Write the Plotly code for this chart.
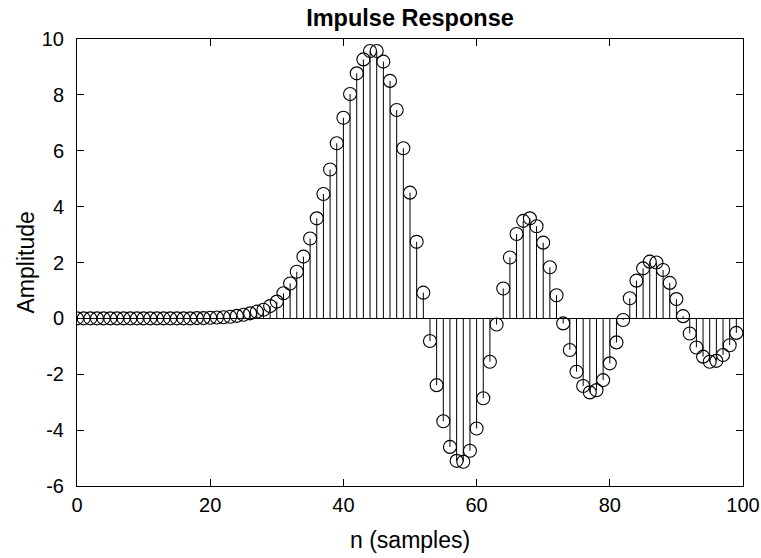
import plotly.graph_objects as go

n = list(range(100))
amplitude = [0.0] * 18 + [
    0.01, 0.01, 0.02, 0.03, 0.04, 0.06, 0.09, 0.13, 0.18, 0.24,   # 18-27
    0.31, 0.44, 0.60, 0.90, 1.25, 1.67, 2.21, 2.86, 3.58, 4.45,   # 28-37
    5.33, 6.27, 7.18, 8.03, 8.77, 9.27, 9.57, 9.57, 9.19, 8.50,   # 38-47
    7.46, 6.09, 4.50, 2.74, 0.92, -0.81, -2.39, -3.68, -4.60, -5.10,  # 48-57
    -5.13, -4.74, -3.94, -2.86, -1.55, -0.22, 1.07, 2.18, 3.02, 3.49,  # 58-67
    3.58, 3.30, 2.71, 1.83, 0.83, -0.18, -1.13, -1.91, -2.42, -2.65,  # 68-77
    -2.57, -2.21, -1.61, -0.86, -0.06, 0.72, 1.35, 1.79, 2.03, 2.00,  # 78-87
    1.73, 1.27, 0.69, 0.08, -0.54, -1.04, -1.37, -1.55, -1.52, -1.31,  # 88-97
    -0.96, -0.52,  # 98-99
]

x_ticks = [0, 20, 40, 60, 80, 100]
y_ticks = [-6, -4, -2, 0, 2, 4, 6, 8, 10]

title_text = "Impulse Response"
x_title = "n (samples)"
y_title = "Amplitude"

# stems built from the data
stem_x, stem_y = [], []
for xi, yi in zip(n, amplitude):
    stem_x += [xi, xi, None]
    stem_y += [0, yi, None]

fig = go.Figure()
fig.add_trace(go.Scatter(x=stem_x, y=stem_y, mode="lines",
                         line=dict(color="black", width=1),
                         hoverinfo="skip", showlegend=False))
fig.add_trace(go.Scatter(x=n, y=amplitude, mode="markers",
                         marker=dict(symbol="circle-open", size=13,
                                     color="black", line=dict(width=1.1)),
                         showlegend=False))

font = "Liberation Sans, Arial, Helvetica, sans-serif"
W, H = 761, 558
ML, MR, MT, MB = 77, 18, 39, 72
PW, PH = W - ML - MR, H - MT - MB

fig.update_layout(
    width=W, height=H,
    margin=dict(l=ML, r=MR, t=MT, b=MB, autoexpand=False),
    paper_bgcolor="white", plot_bgcolor="white",
    font=dict(family=font, size=20, color="black"),
    title=dict(text="<b>" + title_text + "</b>", x=0.5, xref="paper",
               xanchor="center", y=1 - 17.5 / H, yref="container", yanchor="middle",
               font=dict(size=23.5, family=font, color="black")),
    xaxis=dict(range=[0, 100], tickvals=x_ticks, ticktext=[str(v) for v in x_ticks],
               showgrid=False, zeroline=False, showline=True, linecolor="black",
               linewidth=1, mirror="ticks", ticks="inside", ticklen=7,
               tickcolor="black", tickfont=dict(size=20), automargin=False,
               ticklabelstandoff=1),
    yaxis=dict(range=[-6, 10], tickvals=y_ticks, ticktext=[str(v) for v in y_ticks],
               showgrid=False, zeroline=True, zerolinecolor="black", zerolinewidth=1,
               showline=True, linecolor="black", linewidth=1, mirror="ticks",
               ticks="inside", ticklen=7, tickcolor="black", tickfont=dict(size=20),
               automargin=False, ticklabelstandoff=8),
    annotations=[
        dict(text=x_title, xref="paper", yref="paper", x=0.5, y=-54 / PH,
             xanchor="center", yanchor="middle", showarrow=False,
             font=dict(size=23, family=font, color="black")),
        dict(text=y_title, xref="paper", yref="paper", x=-52 / PW, y=0.5,
             xanchor="center", yanchor="middle", showarrow=False, textangle=-90,
             font=dict(size=23, family=font, color="black")),
    ],
)

# remove the default 8px page margin so the figure fills the window exactly
fig.write_html("out.html",
               config={"displayModeBar": False},
               post_script="document.body.style.margin='0';"
                           "document.body.style.overflow='hidden';")
